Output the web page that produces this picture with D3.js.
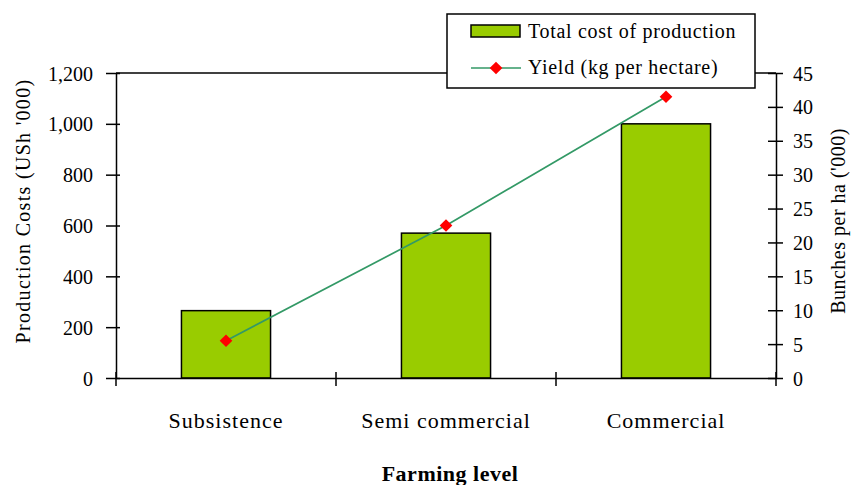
<!DOCTYPE html>
<html>
<head>
<meta charset="utf-8">
<script src="https://cdn.jsdelivr.net/npm/d3@7"></script>
<style>
  html, body { margin: 0; padding: 0; background: #fff; }
  svg { display: block; font-family: "Liberation Serif", "Times New Roman", serif; }
</style>
</head>
<body>
<svg id="chart" width="852" height="485"></svg>
<script>
// Farming levels and their values
const categories = ["Subsistence", "Semi commercial", "Commercial"];
const productionCost = [265, 570, 1000];      // USh '000
const yieldBunches = [5.5, 22.5, 41.5];        // bunches per ha ('000)
const leftTicks = [0, 200, 400, 600, 800, 1000, 1200];
const rightTicks = [0, 5, 10, 15, 20, 25, 30, 35, 40, 45];
const seriesNames = ["Total cost of production", "Yield (kg per hectare)"];

const svg = d3.select("#chart");
const plot = { left: 116, right: 776, top: 73, bottom: 378 };

const x = d3.scaleBand()
  .domain(categories)
  .range([plot.left, plot.right])
  .paddingInner(0.595)
  .paddingOuter(0.2975);

const yLeft = d3.scaleLinear().domain([0, 1200]).range([plot.bottom, plot.top]);
const yRight = d3.scaleLinear().domain([0, 45]).range([plot.bottom, plot.top]);

// top frame line
svg.append("line")
  .attr("x1", plot.left).attr("x2", plot.right)
  .attr("y1", plot.top).attr("y2", plot.top)
  .attr("stroke", "#000").attr("stroke-width", 1.5);

// bars
svg.append("g").selectAll("rect")
  .data(categories)
  .join("rect")
  .attr("x", d => x(d))
  .attr("width", x.bandwidth())
  .attr("y", (d, i) => yLeft(productionCost[i]))
  .attr("height", (d, i) => yLeft(0) - yLeft(productionCost[i]))
  .attr("fill", "#99cc00")
  .attr("stroke", "#000")
  .attr("stroke-width", 1.5);

// left axis
const gl = svg.append("g")
  .attr("transform", `translate(${plot.left},0)`)
  .call(d3.axisLeft(yLeft).tickValues(leftTicks).tickFormat(d3.format(",")).tickSizeInner(10).tickSizeOuter(0).tickPadding(13));
gl.selectAll(".tick line").attr("x2", -10).attr("x1", 4);
gl.selectAll("line, path").attr("stroke", "#000").attr("stroke-width", 1.5);
gl.selectAll("text").attr("font-size", 20).attr("fill", "#000").attr("dy", "0.35em")
  .attr("font-family", "Liberation Serif, serif");

// right axis
const gr = svg.append("g")
  .attr("transform", `translate(${plot.right},0)`)
  .call(d3.axisRight(yRight).tickValues(rightTicks).tickSizeInner(7).tickSizeOuter(0).tickPadding(10));
gr.selectAll(".tick line").attr("x1", -8).attr("x2", 7);
gr.selectAll("line, path").attr("stroke", "#000").attr("stroke-width", 1.5);
gr.selectAll("text").attr("font-size", 20).attr("fill", "#000").attr("dy", "0.35em")
  .attr("font-family", "Liberation Serif, serif");

// bottom axis with ticks at band boundaries
const gb = svg.append("g")
  .attr("transform", `translate(0,${plot.bottom})`)
  .call(d3.axisBottom(x).tickSize(0).tickPadding(34));
gb.select(".domain").attr("stroke", "#000").attr("stroke-width", 1.5);
gb.selectAll("text").attr("font-size", 22).attr("fill", "#000")
  .attr("letter-spacing", "1px").attr("font-family", "Liberation Serif, serif");
const boundaries = categories.map(c => x(c) - (x.step() - x.bandwidth()) / 2);
boundaries.push(plot.right);
gb.selectAll(".bound")
  .data(boundaries)
  .join("line")
  .attr("class", "bound")
  .attr("x1", d => d).attr("x2", d => d)
  .attr("y1", -6).attr("y2", 8)
  .attr("stroke", "#000").attr("stroke-width", 1.5);

// yield line
const line = d3.line()
  .x((d, i) => x(categories[i]) + x.bandwidth() / 2)
  .y(d => yRight(d));
svg.append("path")
  .datum(yieldBunches)
  .attr("d", line)
  .attr("fill", "none")
  .attr("stroke", "#339966")
  .attr("stroke-width", 1.7);

const diamond = d3.symbol().type(d3.symbolSquare).size(80);
svg.append("g").selectAll("path")
  .data(yieldBunches)
  .join("path")
  .attr("d", diamond)
  .attr("transform", (d, i) => `translate(${x(categories[i]) + x.bandwidth() / 2},${yRight(d)}) rotate(45)`)
  .attr("fill", "#ff0000");

// axis titles
svg.append("text")
  .attr("transform", "translate(30,211) rotate(-90)")
  .attr("text-anchor", "middle")
  .attr("font-size", 20)
  .attr("letter-spacing", "1.3px")
  .text("Production Costs (USh '000)");

svg.append("text")
  .attr("transform", "translate(845,221) rotate(-90)")
  .attr("text-anchor", "middle")
  .attr("font-size", 20)
  .attr("letter-spacing", "0.5px")
  .text("Bunches per ha ('000)");

svg.append("text")
  .attr("x", 450).attr("y", 481)
  .attr("text-anchor", "middle")
  .attr("font-size", 22)
  .attr("font-weight", "bold")
  .attr("letter-spacing", "0.5px")
  .text("Farming level");

// legend
const lg = svg.append("g");
lg.append("rect")
  .attr("x", 447).attr("y", 14).attr("width", 308).attr("height", 74)
  .attr("fill", "#fff").attr("stroke", "#000").attr("stroke-width", 1.5);
lg.append("rect")
  .attr("x", 471).attr("y", 25).attr("width", 49).attr("height", 12)
  .attr("fill", "#99cc00").attr("stroke", "#000").attr("stroke-width", 1.5);
lg.append("line")
  .attr("x1", 471).attr("x2", 521).attr("y1", 68).attr("y2", 68)
  .attr("stroke", "#339966").attr("stroke-width", 1.7);
lg.append("path")
  .attr("d", diamond)
  .attr("transform", "translate(496,68) rotate(45)")
  .attr("fill", "#ff0000");
lg.selectAll("text.item")
  .data(seriesNames)
  .join("text")
  .attr("class", "item")
  .attr("x", 528)
  .attr("y", (d, i) => 38 + i * 36)
  .attr("font-size", 20)
  .attr("letter-spacing", "0.7px")
  .text(d => d);
</script>
</body>
</html>
